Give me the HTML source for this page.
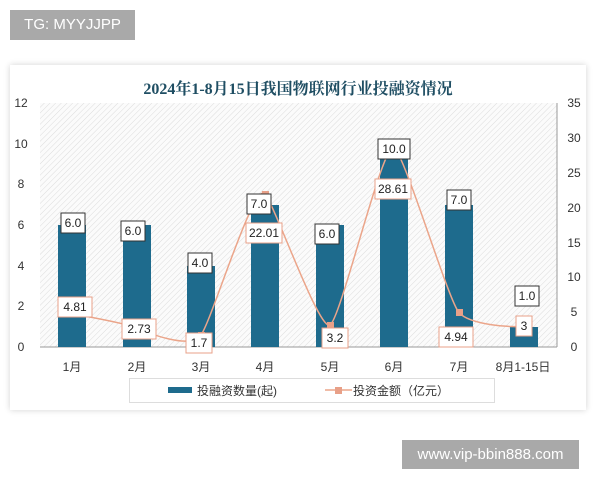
<!DOCTYPE html>
<html><head><meta charset="utf-8"><style>
body{margin:0;width:600px;height:480px;background:#fff;position:relative;overflow:hidden;font-family:"Liberation Sans","Noto Sans CJK SC",sans-serif}
.tg{position:absolute;left:10px;top:10px;width:125px;height:30px;background:#a9a9a9;color:#fff;font-size:15px;line-height:30px;text-align:center}
.wm{position:absolute;left:402px;top:440px;width:177px;height:29px;background:#a9a9a9;color:#fff;font-size:15px;line-height:29px;text-align:center}
.card{position:absolute;left:10px;top:65px;width:576px;height:345px;background:#fff;box-shadow:0 0 6px rgba(0,0,0,.18)}
svg{position:absolute;left:0;top:0}
</style></head><body>
<div class="tg">TG: MYYJJPP</div>
<div class="card"></div>
<svg width="600" height="480" font-family="Liberation Sans, Noto Sans CJK SC, sans-serif">
<defs><pattern id="h" width="4" height="4" patternUnits="userSpaceOnUse" patternTransform="rotate(45)"><rect width="4" height="4" fill="#fbfbfb"/><line x1="0" y1="0" x2="0" y2="4" stroke="#dcdcdc" stroke-width="1"/></pattern></defs>
<text x="298" y="94" text-anchor="middle" font-family="Liberation Serif, Noto Serif CJK SC, serif" font-weight="bold" font-size="16" fill="#1f4e63">2024年1-8月15日我国物联网行业投融资情况</text>
<rect x="40" y="103" width="517" height="244" fill="url(#h)"/>
<line x1="40" y1="347" x2="557" y2="347" stroke="#999"/>
<line x1="557" y1="103" x2="557" y2="347" stroke="#999"/>
<g font-size="12" fill="#333" text-anchor="middle">
<text x="21" y="107">12</text><text x="21" y="148">10</text><text x="21" y="188">8</text><text x="21" y="229">6</text><text x="21" y="270">4</text><text x="21" y="310">2</text><text x="21" y="351">0</text>
<text x="574" y="107">35</text><text x="574" y="142">30</text><text x="574" y="177">25</text><text x="574" y="212">20</text><text x="574" y="247">15</text><text x="574" y="281">10</text><text x="574" y="316">5</text><text x="574" y="351">0</text>
</g>
<g fill="#1e6b8d">
<rect x="58" y="225" width="28" height="122"/><rect x="123" y="225" width="28" height="122"/><rect x="187" y="266" width="28" height="81"/><rect x="251" y="205" width="28" height="142"/><rect x="316" y="225" width="28" height="122"/><rect x="380" y="144" width="28" height="203"/><rect x="445" y="205" width="28" height="142"/><rect x="510" y="327" width="28" height="20"/>
</g>
<path d="M72,313.5 C83,316 126,323 137,328 C148,333 190,350 201,335 C212,320 254,180 265,194 C276,208 319,331 330,325 C341,319 383,140 394,147.6 C405,155 448,300 459,312.6 C470,325 513,328 524,326" fill="none" stroke="#eba58a" stroke-width="1.5"/>
<g fill="#e8a088"><rect x="68" y="310" width="7" height="7"/><rect x="134" y="325" width="7" height="7"/><rect x="198" y="332" width="7" height="7"/><rect x="262" y="191" width="7" height="7"/><rect x="327" y="322" width="7" height="7"/><rect x="391" y="144" width="7" height="7"/><rect x="456" y="309" width="7" height="7"/><rect x="521" y="323" width="7" height="7"/></g>
<g font-size="12" fill="#222" text-anchor="middle">
<g stroke="#e8a088" fill="#fff"><rect x="58" y="297" width="34" height="20"/><rect x="122" y="319" width="34" height="20"/><rect x="186" y="333" width="26" height="20"/><rect x="246" y="223" width="36" height="20"/><rect x="322" y="328" width="26" height="20"/><rect x="375" y="179" width="36" height="20"/><rect x="439" y="327" width="34" height="20"/><rect x="516" y="316" width="16" height="20"/></g>
<text x="75" y="311">4.81</text><text x="139" y="333">2.73</text><text x="199" y="347">1.7</text><text x="264" y="237">22.01</text><text x="335" y="342">3.2</text><text x="393" y="193">28.61</text><text x="456" y="341">4.94</text><text x="524" y="330">3</text>
<g stroke="#333" fill="#fff"><rect x="61" y="213" width="24" height="20"/><rect x="121" y="221" width="24" height="20"/><rect x="188" y="253" width="24" height="20"/><rect x="247" y="194" width="24" height="20"/><rect x="315" y="224" width="24" height="20"/><rect x="378" y="139" width="32" height="20"/><rect x="447" y="190" width="24" height="20"/><rect x="515" y="286" width="24" height="20"/></g>
<text x="73" y="227">6.0</text><text x="133" y="235">6.0</text><text x="200" y="267">4.0</text><text x="259" y="208">7.0</text><text x="327" y="238">6.0</text><text x="394" y="153">10.0</text><text x="459" y="204">7.0</text><text x="527" y="300">1.0</text>
</g>
<g font-size="12" fill="#333" text-anchor="middle">
<text x="72" y="371">1月</text><text x="137" y="371">2月</text><text x="201" y="371">3月</text><text x="265" y="371">4月</text><text x="330" y="371">5月</text><text x="394" y="371">6月</text><text x="459" y="371">7月</text><text x="523" y="371">8月1-15日</text>
</g>
<rect x="129.5" y="378.5" width="365" height="24" fill="#fff" stroke="#ddd"/>
<rect x="168" y="387" width="24" height="6" fill="#1e6b8d"/>
<text x="197" y="395" font-size="12" fill="#333">投融资数量(起)</text>
<line x1="325" y1="390" x2="352" y2="390" stroke="#eba58a" stroke-width="1.5"/><rect x="335" y="387" width="7" height="7" fill="#e8a088"/>
<text x="353" y="395" font-size="12" fill="#333">投资金额（亿元）</text>
</svg>
<div class="wm">www.vip-bbin888.com</div>
</body></html>
